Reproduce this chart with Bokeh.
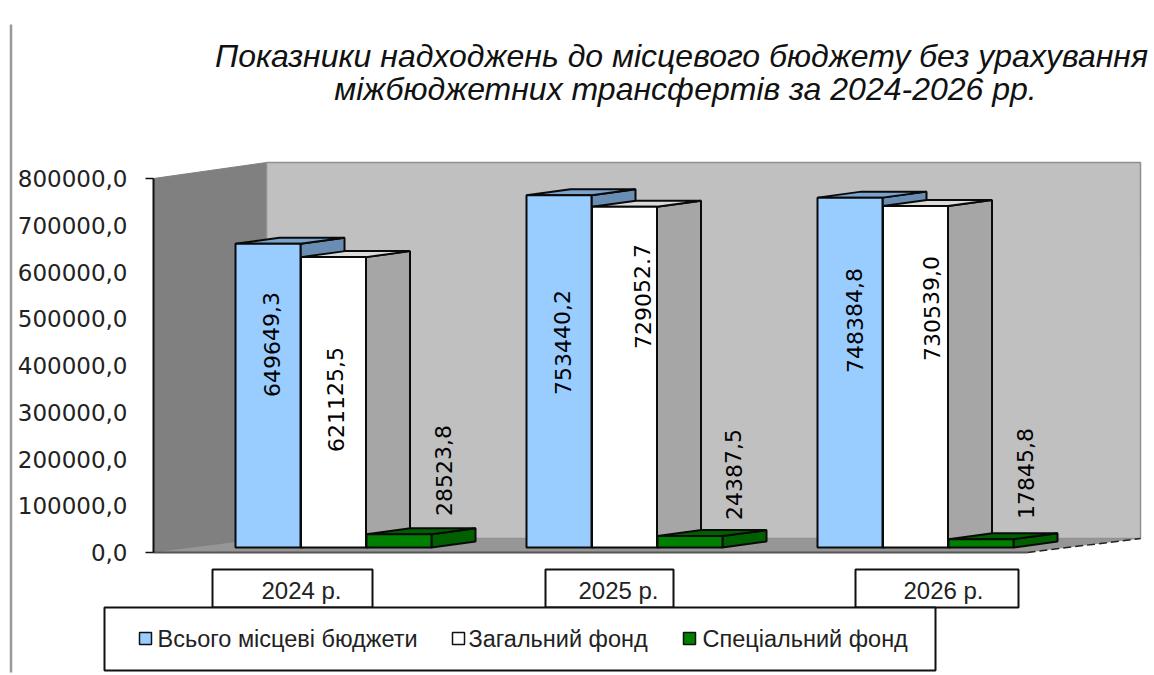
from bokeh.plotting import figure
from bokeh.models import Range1d, FixedTicker, ColumnDataSource
from bokeh.core.properties import value
from bokeh.embed import file_html
from bokeh.resources import INLINE

# ---- data ----
categories = ["2024 р.", "2025 р.", "2026 р."]
series_names = ["Всього місцеві бюджети", "Загальний фонд", "Спеціальний фонд"]
total_budget = [649649.3, 753440.2, 748384.8]
general_fund = [621125.5, 729052.7, 730539.0]
special_fund = [28523.8, 24387.5, 17845.8]
bar_labels = [["649649,3", "753440,2", "748384,8"],
              ["621125,5", "729052.7", "730539,0"],
              ["28523,8", "24387,5", "17845,8"]]
tick_values = [0, 100000, 200000, 300000, 400000, 500000, 600000, 700000, 800000]
tick_labels = ["0,0", "100000,0", "200000,0", "300000,0", "400000,0",
               "500000,0", "600000,0", "700000,0", "800000,0"]
title_lines = ["Показники надходжень до місцевого бюджету без урахування",
               "міжбюджетних трансфертів за 2024-2026 рр."]

# ---- layout (page pixels) ----
W, H = 1154, 675
Y0_PX, Y800_PX = 552.0, 178.0
UNIT = (Y0_PX - Y800_PX) / 800000.0     # px per value


def v(py):
    """page pixel row -> value axis"""
    return (Y0_PX - py) / UNIT


GROUP_X = [235, 526, 817]
BAR_W, BAR_GAP = 65, 0.5
DEPTH_DX, DEPTH_DY = 44, 6
BASE_PX = 547
WALL_DX = 113

LABEL_X = [[271, 562, 854], [335, 642, 931], [443, 733, 1025]]
LABEL_Y = [[344, 342, 320], [399, 296, 308], [470, 474, 473]]

FRONT = ["#99CCFF", "#FFFFFF", "#008000"]
SIDE = ["#6A8DB3", "#A6A6A6", "#006000"]
TOP = ["#7BA3CC", "#DCDCDC", "#006000"]
EDGE = "#0A0A0A"
FONT = value("DejaVu Sans")
FONT2 = value("Liberation Sans")

p = figure(width=W, height=H, output_backend="svg", toolbar_location=None,
           x_range=Range1d(0, W), y_range=Range1d(v(H), v(0)),
           min_border=0, min_border_left=0, min_border_right=0,
           min_border_top=0, min_border_bottom=0,
           x_axis_location=None, outline_line_color=None)
p.xgrid.visible = False
p.ygrid.visible = False
p.background_fill_color = "white"

ax = p.yaxis[0]
ax.fixed_location = 153
ax.bounds = (0, 800000)
ax.ticker = FixedTicker(ticks=tick_values)
ax.major_label_overrides = dict(zip(tick_values, tick_labels))
ax.major_tick_out = 0
ax.major_tick_in = 0
ax.minor_tick_out = 0
ax.minor_tick_in = 0
ax.major_label_standoff = 26
ax.major_label_text_font = "DejaVu Sans"
ax.major_label_text_font_size = "23px"
ax.major_label_text_color = "#222222"
ax.axis_line_color = "#111111"
ax.axis_line_width = 2

# page edge rule
p.line([10.5, 10.5], [v(24), v(672)], line_color="#999999", line_width=2.5)

# walls and floor
wall_top = v(162)
wall_bot = v(538)
L, R = 153, 1140
p.patch([L, L + WALL_DX, L + WALL_DX, L], [800000, wall_top, wall_bot, 0],
        fill_color="#808080", line_color="#808080")
p.patch([L + WALL_DX, R, R, L + WALL_DX], [wall_top, wall_top, wall_bot, wall_bot],
        fill_color="#C0C0C0", line_color="#8F8F8F", line_width=1.5)
p.patch([L, L + WALL_DX, R, R - WALL_DX], [0, wall_bot, wall_bot, 0],
        fill_color="#969696", line_color=None)
p.line([L, R - WALL_DX], [0, 0], line_color="#555555", line_width=2)
p.line([R - WALL_DX, R], [0, wall_bot], line_color="#222222", line_width=1.5, line_dash="8 4")
p.segment([145, 145], tick_values[:1] + tick_values[-1:], [153, 153],
          tick_values[:1] + tick_values[-1:], line_color="#111111", line_width=1.5)

# bars
base = v(BASE_PX)
dy = DEPTH_DY / UNIT
for g, gx in enumerate(GROUP_X):
    for s, vals in enumerate([total_budget, general_fund, special_fund]):
        x0 = gx + s * (BAR_W + BAR_GAP)
        x1 = x0 + BAR_W
        top = base + vals[g]
        # side
        p.patch([x1, x1 + DEPTH_DX, x1 + DEPTH_DX, x1],
                [base, base + dy, top + dy, top],
                fill_color=SIDE[s], line_color=EDGE, line_width=2)
        # top
        p.patch([x0, x1, x1 + DEPTH_DX, x0 + DEPTH_DX],
                [top, top, top + dy, top + dy],
                fill_color=TOP[s], line_color=EDGE, line_width=2)
        # front
        p.quad(left=[x0], right=[x1], bottom=[base], top=[top],
               fill_color=FRONT[s], line_color=EDGE, line_width=2)

# value labels
for s in range(3):
    src = ColumnDataSource(dict(x=LABEL_X[s], y=[v(a) for a in LABEL_Y[s]], t=bar_labels[s]))
    p.text("x", "y", text="t", source=src, angle=1.5708, text_align="center",
           text_baseline="middle", text_font=FONT, text_font_size="22px", text_color="#000000")

# title
p.text([681, 685], [v(55), v(88)], text=title_lines, text_align="center", text_baseline="middle",
       text_font=FONT2, text_font_style="italic", text_font_size="32px", text_color="#111111")

# category boxes
box_l = [212, 545, 855]
box_r = [372, 673, 1018]
box_text_x = [301, 618, 943]
p.quad(left=box_l, right=box_r, top=[v(569)] * 3, bottom=[v(607)] * 3,
       fill_color="white", line_color="#111111", line_width=2)
p.text(box_text_x, [v(590)] * 3, text=categories, text_align="center", text_baseline="middle",
       text_font=FONT2, text_font_size="24px", text_color="#222222")

# legend
p.quad(left=[104], right=[935], top=[v(607)], bottom=[v(670)],
       fill_color="white", line_color="#111111", line_width=2)
sw_x = [139, 452, 683]
tx_x = [157, 468, 702]
p.quad(left=sw_x, right=[a + 12 for a in sw_x], top=[v(632)] * 3, bottom=[v(644)] * 3,
       fill_color=FRONT, line_color="#111111", line_width=1.5)
p.text(tx_x, [v(638)] * 3, text=series_names, text_align="left", text_baseline="middle",
       text_font=FONT2, text_font_size="23.5px", text_color="#222222")

open("out.html", "w").write(file_html(p, INLINE))
